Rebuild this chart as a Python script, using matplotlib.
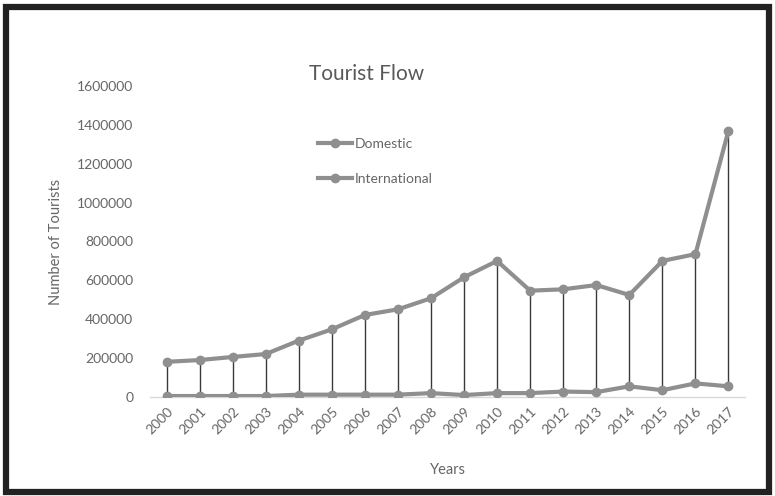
import numpy as np
import matplotlib.pyplot as plt
from matplotlib.patches import Rectangle

years = [str(y) for y in range(2000, 2018)]
domestic = [181000, 190000, 206000, 221000, 290000, 348000, 422000, 451000, 508000,
            616000, 700000, 547000, 554000, 576000, 525000, 700000, 735000, 1370000]
international = [5000, 5000, 5000, 5000, 12000, 12000, 12000, 12000, 20000,
                 10000, 20000, 20000, 28000, 25000, 55000, 35000, 70000, 55000]

plt.rcParams['font.family'] = ['Lato', 'DejaVu Sans']
text_col = '#666666'
line_col = '#8f8f8f'

fig = plt.figure(figsize=(7.75, 4.96), dpi=100)
ax = fig.add_axes([150 / 775, 1 - 397 / 496, 595 / 775, 311 / 496])

x = np.arange(len(years))
# high-low lines between the two series
ax.vlines(x, international, domestic, color='#3a3a3a', lw=1.0, zorder=2)
ax.plot(x, domestic, color=line_col, lw=3, marker='o', ms=6, label='Domestic', zorder=3)
ax.plot(x, international, color=line_col, lw=3, marker='o', ms=6, label='International', zorder=3)

ax.set_xlim(-0.5, len(years) - 0.5)
ax.set_ylim(0, 1600000)
ax.set_yticks(np.arange(0, 1600001, 200000))
ax.ticklabel_format(axis='y', style='plain', useOffset=False)
ax.set_xticks(x)
ax.set_xticklabels(years, rotation=45, ha='right', rotation_mode='anchor')
ax.tick_params(axis='both', length=0, labelsize=10, labelcolor=text_col)
ax.tick_params(axis='y', pad=12)
ax.tick_params(axis='x', pad=6)

for side in ['top', 'right', 'left']:
    ax.spines[side].set_visible(False)
ax.spines['bottom'].set_color('#d9d9d9')
ax.spines['bottom'].set_linewidth(1)

ax.set_xlabel('Years', fontsize=10.5, color=text_col, labelpad=19)
ax.set_ylabel('Number of Tourists', fontsize=10.5, color=text_col, labelpad=10)
fig.text(367 / 775, 1 - 74 / 496, 'Tourist Flow', fontsize=15, color='#595959',
         ha='center', va='center')

ax.legend(loc='upper left', bbox_to_anchor=(305 / 775, 1 - 125 / 496),
          bbox_transform=fig.transFigure, frameon=False, fontsize=10,
          labelcolor=text_col, handlelength=2.5, handletextpad=0.2, labelspacing=1.7)

# dark frame around the whole figure
fig.patches.append(Rectangle((0.0075, 0.0075), 0.985, 0.9785, transform=fig.transFigure,
                             fill=False, edgecolor='#222222', lw=4.5))

fig.savefig('out.png', dpi=100)
